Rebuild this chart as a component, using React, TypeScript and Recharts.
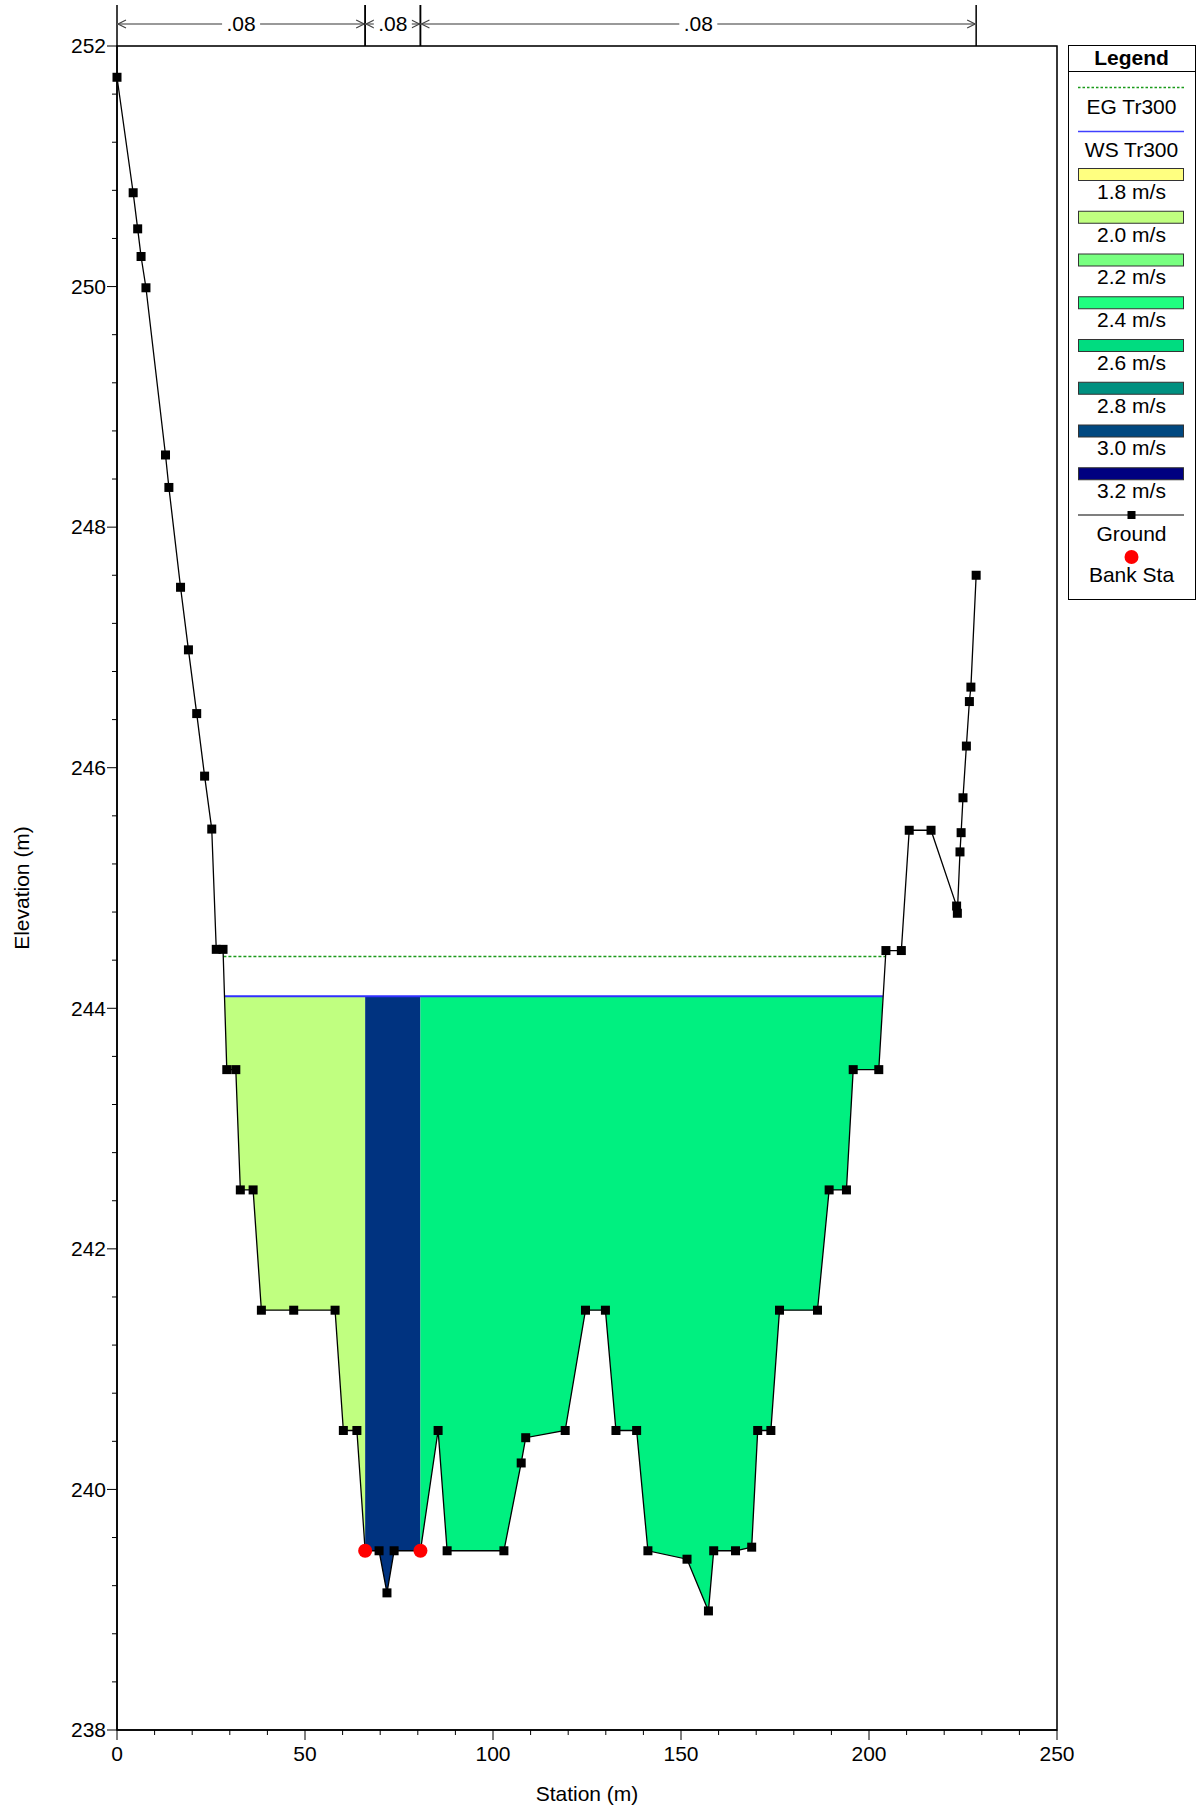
import React from 'react';
import {
  ComposedChart, XAxis, YAxis, CartesianGrid, Line, Area, Scatter,
  ReferenceArea, ReferenceLine,
} from 'recharts';

// Ground profile (station m, elevation m)
const groundPoints = [
  { sta: 0.0, elev: 251.74 }, { sta: 4.3, elev: 250.78 }, { sta: 5.5, elev: 250.48 },
  { sta: 6.4, elev: 250.25 }, { sta: 7.7, elev: 249.99 }, { sta: 12.9, elev: 248.6 },
  { sta: 13.8, elev: 248.33 }, { sta: 16.9, elev: 247.5 }, { sta: 19.0, elev: 246.98 },
  { sta: 21.2, elev: 246.45 }, { sta: 23.3, elev: 245.93 }, { sta: 25.2, elev: 245.49 },
  { sta: 26.4, elev: 244.49 }, { sta: 28.2, elev: 244.49 }, { sta: 29.2, elev: 243.49 },
  { sta: 31.6, elev: 243.49 }, { sta: 32.8, elev: 242.49 }, { sta: 36.2, elev: 242.49 },
  { sta: 38.4, elev: 241.49 }, { sta: 47.0, elev: 241.49 }, { sta: 58.0, elev: 241.49 },
  { sta: 60.2, elev: 240.49 }, { sta: 63.8, elev: 240.49 }, { sta: 66.0, elev: 239.49 },
  { sta: 69.7, elev: 239.49 }, { sta: 71.8, elev: 239.14 }, { sta: 73.7, elev: 239.49 },
  { sta: 80.7, elev: 239.49 }, { sta: 85.4, elev: 240.49 }, { sta: 87.8, elev: 239.49 },
  { sta: 102.9, elev: 239.49 }, { sta: 107.5, elev: 240.22 }, { sta: 108.7, elev: 240.43 },
  { sta: 119.2, elev: 240.49 }, { sta: 124.6, elev: 241.49 }, { sta: 129.9, elev: 241.49 },
  { sta: 132.7, elev: 240.49 }, { sta: 138.2, elev: 240.49 }, { sta: 141.2, elev: 239.49 },
  { sta: 151.6, elev: 239.42 }, { sta: 157.3, elev: 238.99 }, { sta: 158.7, elev: 239.49 },
  { sta: 164.5, elev: 239.49 }, { sta: 168.8, elev: 239.52 }, { sta: 170.4, elev: 240.49 },
  { sta: 173.9, elev: 240.49 }, { sta: 176.2, elev: 241.49 }, { sta: 186.3, elev: 241.49 },
  { sta: 189.4, elev: 242.49 }, { sta: 194.0, elev: 242.49 }, { sta: 195.8, elev: 243.49 },
  { sta: 202.6, elev: 243.49 }, { sta: 204.5, elev: 244.48 }, { sta: 208.6, elev: 244.48 },
  { sta: 210.7, elev: 245.48 }, { sta: 216.5, elev: 245.48 }, { sta: 223.3, elev: 244.85 },
  { sta: 223.5, elev: 244.79 }, { sta: 224.2, elev: 245.30 }, { sta: 224.5, elev: 245.46 },
  { sta: 225.0, elev: 245.75 }, { sta: 225.9, elev: 246.18 }, { sta: 226.7, elev: 246.55 },
  { sta: 227.1, elev: 246.67 }, { sta: 228.5, elev: 247.60 },
];

// Tr300 profile
const wsElev = 244.1;
const wsEdges = [{ sta: 28.6, elev: 244.1 }, { sta: 203.7, elev: 244.1 }];
const egEdges = [{ sta: 28.3, elev: 244.43 }, { sta: 204.4, elev: 244.43 }];
const bankSta = [66.0, 80.7];
const bankPoints = [{ sta: 66.0, elev: 239.49 }, { sta: 80.7, elev: 239.49 }];

// velocity colour for each flow area (LOB, channel, ROB)
const fillColors = ['#c0ff80', '#003380', '#00f080'];

// Manning's n at top
const nStations = [0, 66.0, 80.7, 228.5];
const nValues = ['.08', '.08', '.08'];

// axes
const xMajorTicks = [0, 50, 100, 150, 200, 250];
const xTicks = [0, 10, 20, 30, 40, 50, 60, 70, 80, 90, 100, 110, 120, 130, 140, 150, 160, 170,
  180, 190, 200, 210, 220, 230, 240, 250];
const yMajorTicks = [238, 240, 242, 244, 246, 248, 250, 252];
const yTicks = [238, 238.4, 238.8, 239.2, 239.6, 240, 240.4, 240.8, 241.2, 241.6, 242, 242.4,
  242.8, 243.2, 243.6, 244, 244.4, 244.8, 245.2, 245.6, 246, 246.4, 246.8, 247.2, 247.6, 248,
  248.4, 248.8, 249.2, 249.6, 250, 250.4, 250.8, 251.2, 251.6, 252];

// legend
const legendSpeeds = ['1.8 m/s', '2.0 m/s', '2.2 m/s', '2.4 m/s', '2.6 m/s', '2.8 m/s', '3.0 m/s', '3.2 m/s'];
const legendColors = ['#ffff80', '#c0ff80', '#78ff80', '#20ff80', '#00dc80', '#009080', '#004880', '#000080'];

const FONT = '"Liberation Sans", Arial, Helvetica, sans-serif';

const leftFill = [wsEdges[0], ...groundPoints.filter(p => p.sta > wsEdges[0].sta && p.sta <= bankSta[0])];
const chanFill = groundPoints.filter(p => p.sta >= bankSta[0] && p.sta <= bankSta[1]);
const rightFill = [...groundPoints.filter(p => p.sta >= bankSta[1] && p.sta < wsEdges[1].sta), wsEdges[1]];
const fills = [leftFill, chanFill, rightFill];

const YTick = (props: any) => {
  const { x, y, payload } = props;
  const major = yMajorTicks.includes(payload.value);
  const ax = x + 12;
  return (
    <g>
      <line x1={ax - (major ? 10 : 5)} y1={y} x2={ax} y2={y} stroke="#000" strokeWidth={1} />
      {major && (
        <text x={ax - 11} y={y} dy="0.35em" textAnchor="end" fontSize={21} fill="#000">
          {payload.value}
        </text>
      )}
    </g>
  );
};

const XTick = (props: any) => {
  const { x, y, payload } = props;
  const major = xMajorTicks.includes(payload.value);
  const ay = y - 12;
  return (
    <g>
      <line x1={x} y1={ay} x2={x} y2={ay + (major ? 10 : 5)} stroke="#000" strokeWidth={1} />
      {major && (
        <text x={x} y={ay + 24} dy="0.35em" textAnchor="middle" fontSize={21} fill="#000">
          {payload.value}
        </text>
      )}
    </g>
  );
};

const manningShape = (label: string) => (props: any) => {
  const { x1, y1, x2 } = props;
  const ay = y1 - 22;
  const mid = (x1 + x2) / 2;
  const tw = 38;
  return (
    <g>
      <line x1={x1} y1={y1} x2={x1} y2={y1 - 41} stroke="#000" strokeWidth={1.5} />
      <line x1={x2} y1={y1} x2={x2} y2={y1 - 41} stroke="#000" strokeWidth={1.5} />
      <line x1={x1} y1={ay} x2={x2} y2={ay} stroke="#777" strokeWidth={1.5} />
      <polyline points={`${x1 + 9},${ay - 4} ${x1 + 1},${ay} ${x1 + 9},${ay + 4}`} fill="none" stroke="#444" strokeWidth={1.2} />
      <polyline points={`${x2 - 9},${ay - 4} ${x2 - 1},${ay} ${x2 - 9},${ay + 4}`} fill="none" stroke="#444" strokeWidth={1.2} />
      <rect x={mid - tw / 2} y={ay - 12} width={tw} height={24} fill="#fff" />
      <text x={mid} y={ay} dy="0.35em" textAnchor="middle" fontSize={21} fill="#000">{label}</text>
    </g>
  );
};

const squareDot = (p: any) => (
  <rect key={`g-${p.index}`} x={p.cx - 4.5} y={p.cy - 4.5} width={9} height={9} fill="#000" />
);

const bankDot = (p: any) => <circle cx={p.cx} cy={p.cy} r={7} fill="#ff0000" />;

const LegendBox = () => {
  const cx = 63.5;
  return (
    <svg width={129} height={556} style={{ position: 'absolute', left: 1068, top: 45, fontFamily: FONT }}>
      <rect x={0.5} y={0.5} width={127} height={554} fill="#fff" stroke="#000" strokeWidth={1} />
      <text x={cx} y={13} dy="0.35em" textAnchor="middle" fontSize={21} fontWeight="bold">Legend</text>
      <line x1={0} y1={26.5} x2={128} y2={26.5} stroke="#000" />
      <line x1={10} y1={42.5} x2={116} y2={42.5} stroke="#1a9a1a" strokeWidth={1.5} strokeDasharray="2.5 2" />
      <text x={cx} y={62} dy="0.35em" textAnchor="middle" fontSize={21}>EG Tr300</text>
      <line x1={10} y1={86.5} x2={116} y2={86.5} stroke="#4040ff" strokeWidth={1.5} />
      <text x={cx} y={105} dy="0.35em" textAnchor="middle" fontSize={21}>WS Tr300</text>
      {legendSpeeds.map((s, i) => (
        <g key={s}>
          <rect x={10.5} y={123.5 + i * 42.75} width={105} height={12} fill={legendColors[i]} stroke="#333" strokeWidth={1} />
          <text x={cx} y={146.5 + i * 42.75} dy="0.35em" textAnchor="middle" fontSize={21}>{s}</text>
        </g>
      ))}
      <line x1={10} y1={470} x2={116} y2={470} stroke="#000" strokeWidth={1.2} />
      <rect x={cx - 4} y={466} width={8} height={8} fill="#000" />
      <text x={cx} y={488.5} dy="0.35em" textAnchor="middle" fontSize={21}>Ground</text>
      <circle cx={cx} cy={512} r={7} fill="#ff0000" />
      <text x={cx} y={530} dy="0.35em" textAnchor="middle" fontSize={21}>Bank Sta</text>
    </svg>
  );
};

export default function App() {
  return (
    <div style={{ position: 'absolute', left: 0, top: 0, width: 1198, height: 1812, background: '#fff', fontFamily: FONT }}>
      <ComposedChart width={1082} height={1812} margin={{ top: 46, right: 25, bottom: 0, left: 0 }}>
        <XAxis xAxisId="g" type="number" dataKey="sta" domain={[0, 250]} ticks={xMajorTicks} hide />
        <YAxis yAxisId="g" type="number" domain={[238, 252]} ticks={yMajorTicks} hide />
        <CartesianGrid xAxisId="g" yAxisId="g" stroke="#d4d4d4" strokeWidth={1.5} />
        <XAxis
          type="number" dataKey="sta" domain={[0, 250]} ticks={xTicks} interval={0}
          height={82} tickSize={10} tickMargin={2} tickLine={false} tick={<XTick />}
          axisLine={{ stroke: '#000', strokeWidth: 1.5 }}
          label={{ value: 'Station (m)', position: 'insideBottom', offset: 11, fontSize: 21, fill: '#000' }}
        />
        <YAxis
          type="number" domain={[238, 252]} ticks={yTicks} interval={0}
          width={117} tickSize={10} tickMargin={2} tickLine={false} tick={<YTick />}
          axisLine={{ stroke: '#000', strokeWidth: 1.5 }}
          label={{ value: 'Elevation (m)', angle: -90, position: 'insideLeft', offset: 22, fontSize: 21, fill: '#000', style: { textAnchor: 'middle' } }}
        />
        {fills.map((d, i) => (
          <Area
            key={`fill-${i}`} data={d} type="linear" dataKey={(p: any) => [p.elev, wsElev]}
            fill={fillColors[i]} fillOpacity={1} stroke="none" dot={false} activeDot={false}
            isAnimationActive={false}
          />
        ))}
        <Line data={egEdges} dataKey="elev" stroke="#1a9a1a" strokeWidth={1.5} strokeDasharray="3 2" dot={false} activeDot={false} isAnimationActive={false} />
        <Line data={wsEdges} dataKey="elev" stroke="#3030ff" strokeWidth={2} dot={false} activeDot={false} isAnimationActive={false} />
        <Line data={groundPoints} dataKey="elev" stroke="#000" strokeWidth={1.3} dot={squareDot} activeDot={false} isAnimationActive={false} />
        <Scatter data={bankPoints} dataKey="elev" shape={bankDot} isAnimationActive={false} />
        <ReferenceArea x1={0} x2={250} y1={238} y2={252} fill="none" fillOpacity={0} stroke="#000" strokeWidth={1.5} />
        {nValues.map((n, i) => (
          <ReferenceLine
            key={`n-${i}`}
            segment={[{ x: nStations[i], y: 252 }, { x: nStations[i + 1], y: 252 }]}
            shape={manningShape(n)}
          />
        ))}
      </ComposedChart>
      <LegendBox />
    </div>
  );
}
